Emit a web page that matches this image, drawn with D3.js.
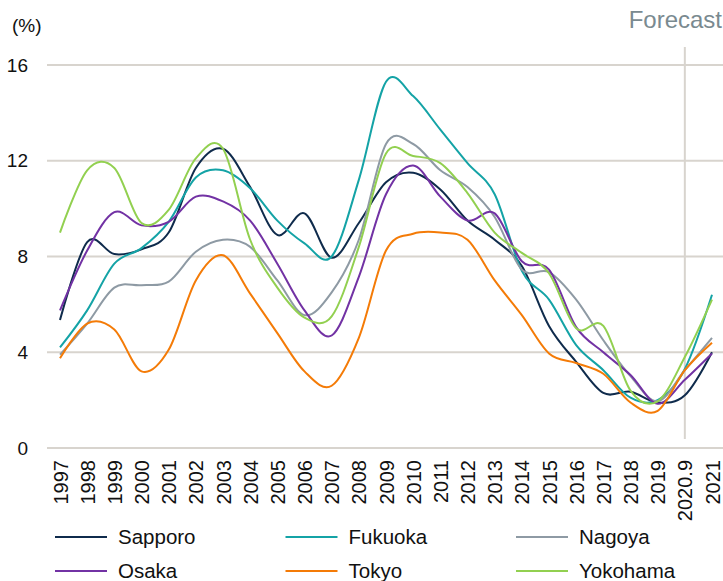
<!DOCTYPE html>
<html>
<head>
<meta charset="utf-8">
<script src="https://cdn.jsdelivr.net/npm/d3@7"></script>
<style>
  html, body { margin: 0; padding: 0; background: #fff; }
  svg { display: block; font-family: "Liberation Sans", Arial, sans-serif; }
</style>
</head>
<body>
<svg id="chart" width="723" height="581"></svg>
<script>
const categories = ["1997","1998","1999","2000","2001","2002","2003","2004","2005","2006","2007","2008","2009","2010","2011","2012","2013","2014","2015","2016","2017","2018","2019","2020.9","2021"];
const yTicks = [0, 4, 8, 12, 16];

const sapporo  = [5.35, 8.6, 8.1, 8.3, 9.0, 11.7, 12.5, 10.9, 8.9, 9.8, 7.95, 9.4, 11.1, 11.5, 10.8, 9.5, 8.7, 7.6, 5.1, 3.6, 2.3, 2.35, 1.9, 2.2, 4.0];
const fukuoka  = [4.2, 5.75, 7.7, 8.35, 9.45, 11.3, 11.6, 10.85, 9.5, 8.55, 8.0, 11.2, 15.3, 14.7, 13.3, 11.9, 10.6, 7.4, 6.2, 4.3, 3.25, 2.1, 2.0, 3.3, 6.4];
const nagoya   = [3.9, 5.2, 6.7, 6.8, 6.95, 8.2, 8.7, 8.4, 7.0, 5.55, 6.5, 8.7, 12.7, 12.7, 11.6, 10.9, 9.65, 7.45, 7.35, 6.2, 4.5, 3.0, 1.95, 3.25, 4.6];
const osaka    = [5.75, 8.25, 9.85, 9.3, 9.45, 10.5, 10.3, 9.5, 7.7, 5.75, 4.7, 7.15, 10.6, 11.8, 10.5, 9.5, 9.8, 7.8, 7.45, 5.05, 4.0, 3.05, 1.85, 2.85, 3.95];
const tokyo    = [3.75, 5.2, 4.95, 3.2, 4.1, 7.0, 8.05, 6.45, 4.8, 3.2, 2.6, 4.6, 8.25, 8.95, 9.0, 8.7, 7.0, 5.55, 3.95, 3.55, 3.1, 1.9, 1.55, 3.25, 4.4];
const yokohama = [9.0, 11.6, 11.7, 9.4, 9.95, 12.1, 12.5, 8.7, 6.7, 5.45, 5.5, 8.4, 12.3, 12.2, 11.9, 10.65, 9.0, 8.15, 7.3, 5.0, 5.1, 2.4, 1.95, 3.8, 6.2];

const seriesNames = ["Sapporo", "Fukuoka", "Nagoya", "Osaka", "Tokyo", "Yokohama"];
const seriesValues = [sapporo, fukuoka, nagoya, osaka, tokyo, yokohama];
const seriesColors = ["#0f2b4c", "#14a3a6", "#8e9aa4", "#7232a4", "#f47b07", "#92d050"];
const forecastLabel = "Forecast";
const forecastAt = "2020.9";

const svg = d3.select("#chart");
const W = 723, H = 581;

const x = d3.scalePoint().domain(categories).range([60, 712]);
const y = d3.scaleLinear().domain([0, 16]).range([448, 65]);

// gridlines
svg.append("g").selectAll("line").data(yTicks).join("line")
  .attr("x1", 47).attr("x2", W)
  .attr("y1", d => y(d)).attr("y2", d => y(d))
  .attr("stroke", "#d8d4ce").attr("stroke-width", 2);

// forecast divider
svg.append("line")
  .attr("x1", x(forecastAt)).attr("x2", x(forecastAt))
  .attr("y1", 47).attr("y2", 439)
  .attr("stroke", "#d8d4ce").attr("stroke-width", 2);

svg.append("text")
  .attr("x", 722).attr("y", 28)
  .attr("text-anchor", "end")
  .attr("font-size", 24)
  .attr("fill", "#7a8a90")
  .text(forecastLabel);

// y axis labels
const yAxis = d3.axisLeft(y).tickValues(yTicks).tickSize(0).tickPadding(0).tickFormat(d3.format("d"));
const gy = svg.append("g").attr("transform", "translate(28,0)").call(yAxis);
gy.select(".domain").remove();
gy.selectAll("text").attr("font-size", 19).attr("fill", "#111").attr("font-family", "Liberation Sans, Arial, sans-serif");

svg.append("text").attr("x", 12).attr("y", 32).attr("font-size", 19).attr("fill", "#111").text("(%)");

// x axis labels
const xAxis = d3.axisBottom(x).tickSize(0).tickPadding(0);
const gx = svg.append("g").attr("transform", "translate(0,460)").call(xAxis);
gx.select(".domain").remove();
gx.selectAll("text")
  .attr("font-size", 20).attr("fill", "#111")
  .attr("font-family", "Liberation Sans, Arial, sans-serif")
  .attr("transform", "rotate(-90)")
  .attr("text-anchor", "end")
  .attr("x", 0).attr("y", 0).attr("dy", "0.35em");

// lines
const line = d3.line()
  .x((d, i) => x(categories[i]))
  .y(d => y(d))
  .curve(d3.curveCardinal.tension(0));

svg.append("g").selectAll("path").data(seriesValues).join("path")
  .attr("d", d => line(d))
  .attr("fill", "none")
  .attr("stroke", (d, i) => seriesColors[i])
  .attr("stroke-width", 2);

// legend
const legend = svg.append("g");
seriesNames.forEach((name, i) => {
  const col = i % 3, row = Math.floor(i / 3);
  const lx = 55 + col * 230.5;
  const ly = 537 + row * 34;
  legend.append("line").attr("x1", lx).attr("x2", lx + 52).attr("y1", ly).attr("y2", ly)
    .attr("stroke", seriesColors[i]).attr("stroke-width", 2);
  legend.append("text").attr("x", lx + 63).attr("y", ly + 7)
    .attr("font-size", 20.5).attr("fill", "#111").text(name);
});
</script>
</body>
</html>
